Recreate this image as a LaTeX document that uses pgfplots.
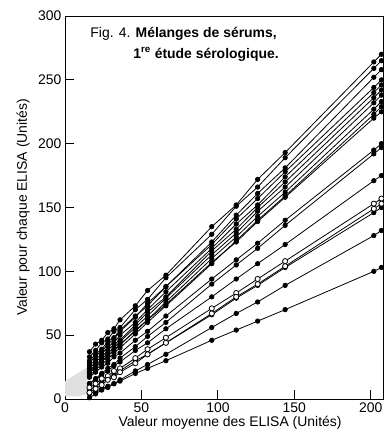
\documentclass[border=0pt]{standalone}
\usepackage{pgfplots}
\pgfplotsset{compat=1.18}
\usepackage{pgfplotstable}
\usepackage{fontspec}
\setmainfont{Liberation Sans}
\pgfplotstableread{
x l1 l2 l3 l4 l5 l6 l7 l8 l9 l10 l11 l12 l13 l14 l15 l16 l17 l18
16 37 33 28 30 26 24 22 20 18 21 17 12 12 9 5 7 1 4
20 43 38 34 35 31 29 27 25 23 26 21 16 15 12 8 10 4 6
24 46 44 37 39 35 33 31 29 27 29 25 20 19 16 11 13 7 8
28 52 47 43 45 41 38 36 34 31 34 28 24 22 18 15 16 9 10
32 55 53 47 48 44 43 40 38 36 38 33 27 26 22 17 19 12 12
36 62 56 53 54 50 46 45 42 40 43 36 32 29 24 21 22 15 14
46 73 70 64 65 60 58 56 54 51 53 46 41 38 32 28 30 22 20
54 85 78 75 73 70 68 65 62 60 62 53 49 44 39 35 35 27 24
66 97 95 88 88 84 80 79 76 73 74 65 60 55 48 44 44 35 30
96 135 129 123 121 118 116 113 110 106 107 94 90 80 71 67 66 56 46
112 152 151 144 141 137 133 130 127 124 123 109 105 94 83 80 79 67 54
126 172 166 161 157 152 150 147 143 140 139 122 118 106 94 90 89 76 61
144 193 189 181 178 174 170 166 162 159 158 140 136 121 108 104 103 89 70
202 264 259 252 244 240 236 232 227 223 220 195 192 171 153 149 146 128 100
207 270 265 258 250 246 242 238 233 229 225 200 197 175 157 153 150 132 103
}\data
\begin{document}
\begin{tikzpicture}[
  ln/.style={black, solid, line width=0.8pt, mark=*, mark size=2.2pt, mark options={solid, fill=black, draw=black}},
  lo/.style={black, solid, line width=0.8pt, mark=*, mark size=2.6pt, mark options={solid, fill=white, draw=black, line width=0.8pt}},
]
\begin{axis}[
  at={(0,0)}, anchor=south west,
  scale only axis,
  width=318bp, height=383bp,
  xmin=0, xmax=208, ymin=0, ymax=300,
  xtick={0,50,100,150,200},
  ytick={0,50,100,150,200,250,300},
  xtick pos=bottom, ytick pos=left,
  tick align=inside,
  major tick length=9bp,
  axis line style={line width=0.9pt},
  tick style={line width=0.9pt, black},
  ticklabel style={font=\fontsize{14}{16}\selectfont},
  /pgf/number format/assume math mode=true,
  xlabel={Valeur moyenne des ELISA (Unités)},
  ylabel={Valeur pour chaque ELISA (Unités)},
  label style={font=\fontsize{14}{16}\selectfont},
  xlabel style={at={(axis description cs:0.519,-0.0731)}, anchor=base},
  ylabel style={at={(axis description cs:-0.1195,0.5)}, anchor=base},
]
\addplot[draw=none, fill=black!12, mark=none, forget plot] coordinates {(0,2) (0,14) (8,20) (16,26) (16,4) (8,2)} -- cycle;
\addplot[ln] table[x=x,y=l1] {\data};
\addplot[ln] table[x=x,y=l2] {\data};
\addplot[ln] table[x=x,y=l3] {\data};
\addplot[ln] table[x=x,y=l4] {\data};
\addplot[ln] table[x=x,y=l5] {\data};
\addplot[ln] table[x=x,y=l6] {\data};
\addplot[ln] table[x=x,y=l7] {\data};
\addplot[ln] table[x=x,y=l8] {\data};
\addplot[ln] table[x=x,y=l9] {\data};
\addplot[ln] table[x=x,y=l10] {\data};
\addplot[ln] table[x=x,y=l11] {\data};
\addplot[ln] table[x=x,y=l12] {\data};
\addplot[ln] table[x=x,y=l13] {\data};
\addplot[ln] table[x=x,y=l16] {\data};
\addplot[ln] table[x=x,y=l17] {\data};
\addplot[ln] table[x=x,y=l18] {\data};
\addplot[lo] table[x=x,y=l14] {\data};
\addplot[lo] table[x=x,y=l15] {\data};
\node[anchor=base west, font=\fontsize{14}{16}\selectfont] at (axis description cs:0.069,0.9426) {Fig. 4. \textbf{Mélanges de sérums,}};
\node[anchor=base west, font=\fontsize{14}{16}\selectfont] at (axis description cs:0.204,0.8903) {\textbf{1\textsuperscript{re} étude sérologique.}};
\end{axis}
\pgfresetboundingbox
\path[use as bounding box] (-65bp,-31bp) rectangle (319bp,399bp);
\end{tikzpicture}
\end{document}
